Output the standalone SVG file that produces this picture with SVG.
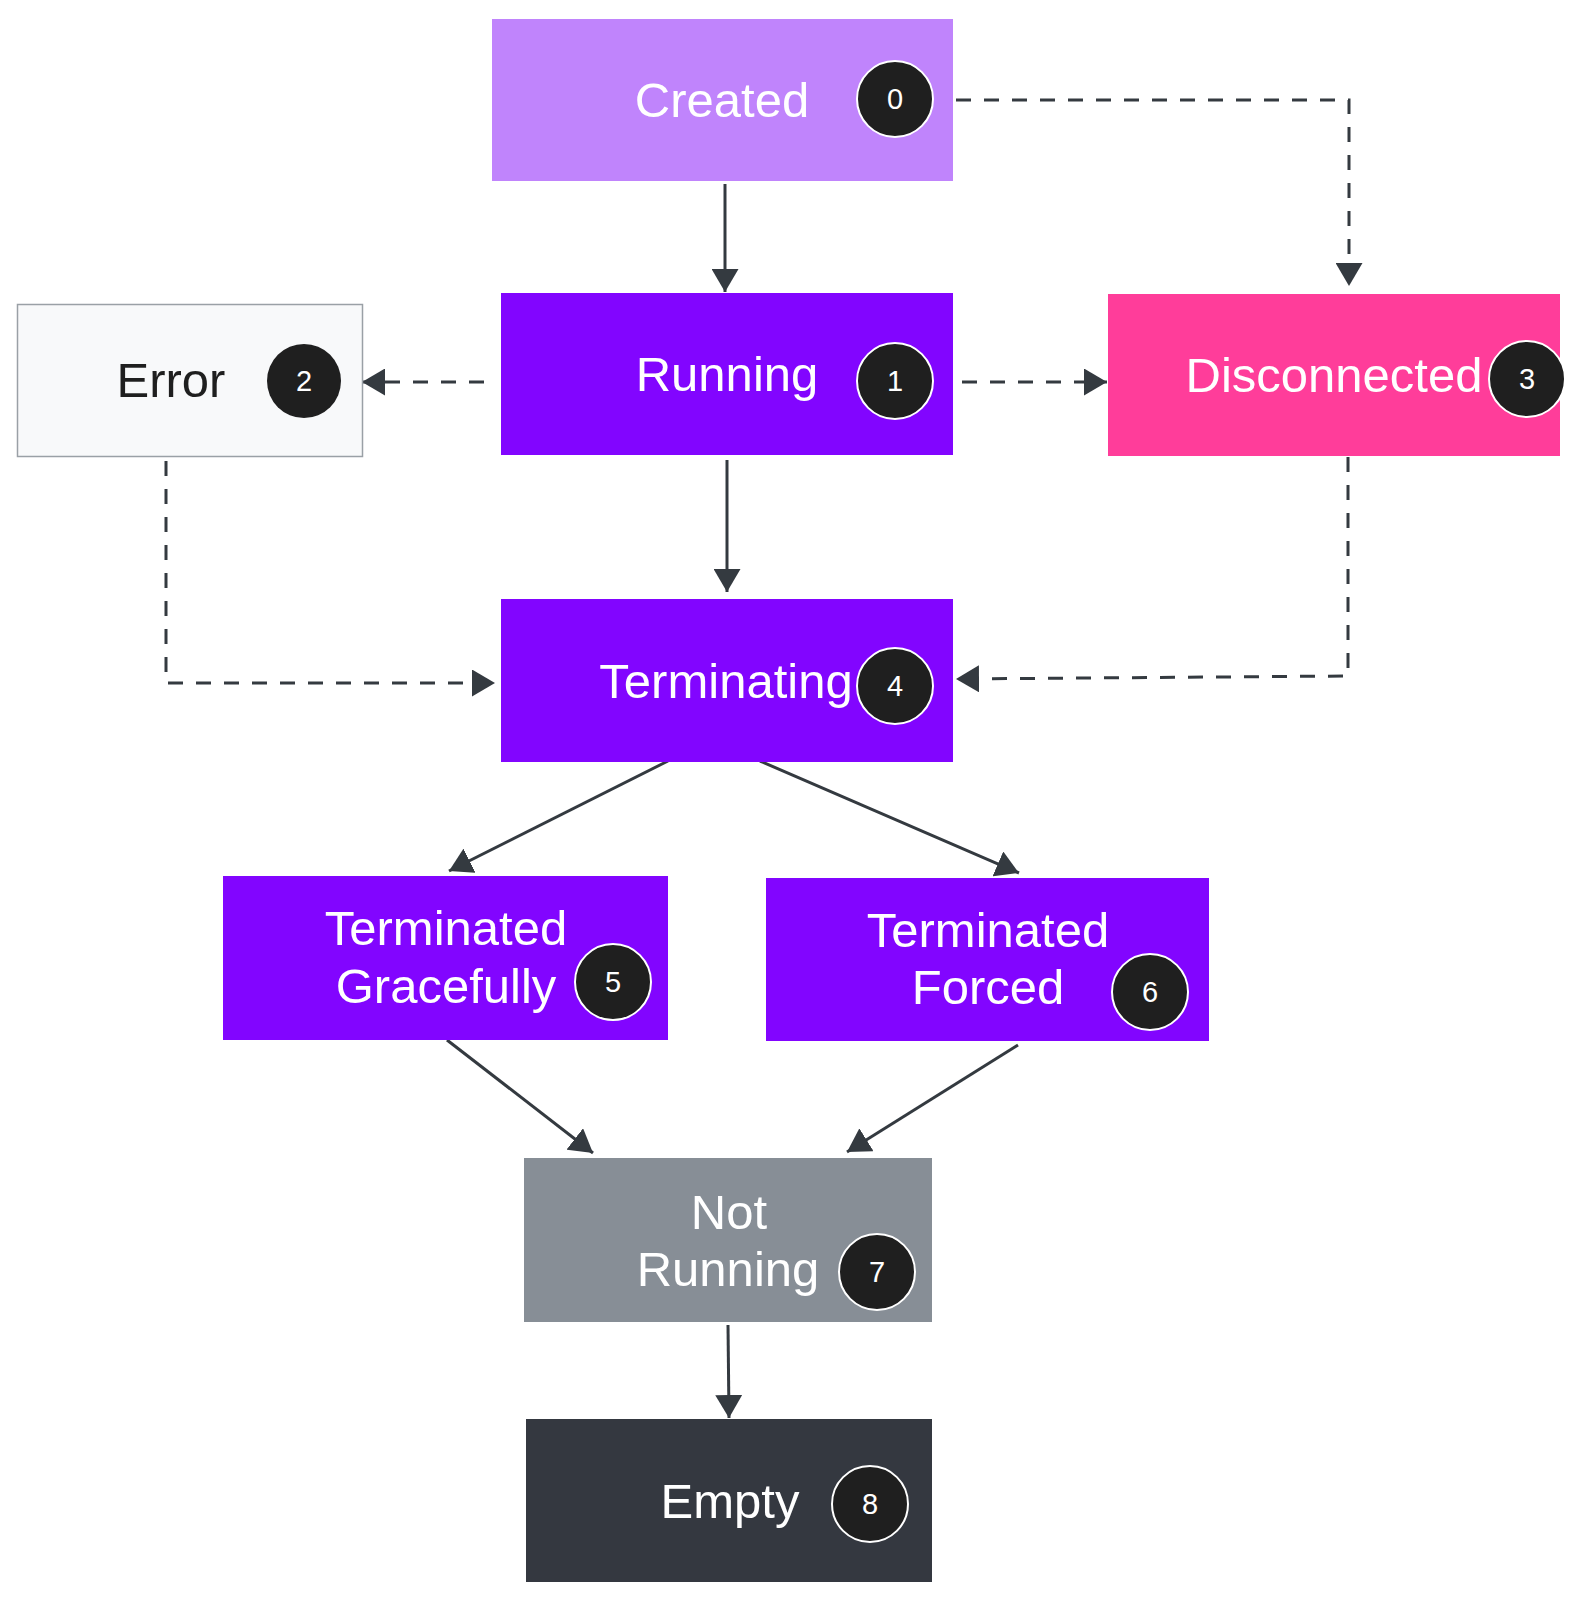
<svg xmlns="http://www.w3.org/2000/svg" width="1582" height="1600" viewBox="0 0 1582 1600">
<style>
.lbl{font-family:"Liberation Sans",Arial,sans-serif;font-size:49px;fill:#ffffff;text-anchor:middle}
.dark{fill:#1f1f1f}
.badge{fill:#1f1f1f;stroke:#ffffff;stroke-width:2}
.num{font-family:"Liberation Sans",Arial,sans-serif;font-size:29px;fill:#ffffff;text-anchor:middle}
.edge{fill:none;stroke:#343a40;stroke-width:3}
.dash{stroke-dasharray:15 13}
</style>
<defs>
<marker id="arr" viewBox="0 0 23 27" refX="23" refY="13.5" markerWidth="23" markerHeight="27" markerUnits="userSpaceOnUse" orient="auto">
<path d="M0,0 L23,13.5 L0,27 z" fill="#343a40"/>
</marker>
</defs>
<rect width="1582" height="1600" fill="#ffffff"/>

<g id="connectors">
<path class="edge" d="M725,184 L725,292" marker-end="url(#arr)"/>
<path class="edge" d="M727,460 L727,592" marker-end="url(#arr)"/>
<path class="edge dash" d="M484,382 L362,382" marker-end="url(#arr)"/>
<path class="edge dash" d="M962,382 L1107,382" marker-end="url(#arr)"/>
<path class="edge dash" d="M956,100 L1349,100 L1349,286" marker-end="url(#arr)"/>
<path class="edge dash" d="M166,461 L166,683 L495,683" marker-end="url(#arr)"/>
<path class="edge dash" d="M1348,457 L1348,676 L956,679" marker-end="url(#arr)"/>
<path class="edge" d="M668,761 L449,871" marker-end="url(#arr)"/>
<path class="edge" d="M760,761 L1019,873" marker-end="url(#arr)"/>
<path class="edge" d="M447,1040 L593,1153" marker-end="url(#arr)"/>
<path class="edge" d="M1018,1045 L847,1152" marker-end="url(#arr)"/>
<path class="edge" d="M728,1325 L729,1418" marker-end="url(#arr)"/>
</g>

<g id="node-created">
<rect x="492" y="19" width="461" height="162" fill="#C084FC"/>
<text class="lbl" x="722" y="117">Created</text>
<circle class="badge" cx="895" cy="99" r="38"/>
<text class="num" x="895" y="109">0</text>
</g>

<g id="node-running">
<rect x="501" y="293" width="452" height="162" fill="#8205FF"/>
<text class="lbl" x="727" y="391">Running</text>
<circle class="badge" cx="895" cy="381" r="38"/>
<text class="num" x="895" y="391">1</text>
</g>

<g id="node-error">
<rect x="17.5" y="304.5" width="345" height="152" fill="#F8F9FA" stroke="#9aa0a6" stroke-width="1.5"/>
<text class="lbl dark" x="171" y="397">Error</text>
<circle cx="304" cy="381" r="37" fill="#1f1f1f"/>
<text class="num" x="304" y="391">2</text>
</g>

<g id="node-disconnected">
<rect x="1108" y="294" width="452" height="162" fill="#FF3D9A"/>
<text class="lbl" x="1334" y="392">Disconnected</text>
<circle class="badge" cx="1527" cy="379" r="38"/>
<text class="num" x="1527" y="389">3</text>
</g>

<g id="node-terminating">
<rect x="501" y="599" width="452" height="163" fill="#8205FF"/>
<text class="lbl" x="726" y="698">Terminating</text>
<circle class="badge" cx="895" cy="686" r="38"/>
<text class="num" x="895" y="696">4</text>
</g>

<g id="node-graceful">
<rect x="223" y="876" width="445" height="164" fill="#8205FF"/>
<text class="lbl" x="446" y="945">Terminated</text>
<text class="lbl" x="446" y="1003">Gracefully</text>
<circle class="badge" cx="613" cy="982" r="38"/>
<text class="num" x="613" y="992">5</text>
</g>

<g id="node-forced">
<rect x="766" y="878" width="443" height="163" fill="#8205FF"/>
<text class="lbl" x="988" y="947">Terminated</text>
<text class="lbl" x="988" y="1004">Forced</text>
<circle class="badge" cx="1150" cy="992" r="38"/>
<text class="num" x="1150" y="1002">6</text>
</g>

<g id="node-notrunning">
<rect x="524" y="1158" width="408" height="164" fill="#878E96"/>
<text class="lbl" x="729" y="1229">Not</text>
<text class="lbl" x="728" y="1286">Running</text>
<circle class="badge" cx="877" cy="1272" r="38"/>
<text class="num" x="877" y="1282">7</text>
</g>

<g id="node-empty">
<rect x="526" y="1419" width="406" height="163" fill="#343840"/>
<text class="lbl" x="730" y="1518">Empty</text>
<circle class="badge" cx="870" cy="1504" r="38"/>
<text class="num" x="870" y="1514">8</text>
</g>
</svg>
